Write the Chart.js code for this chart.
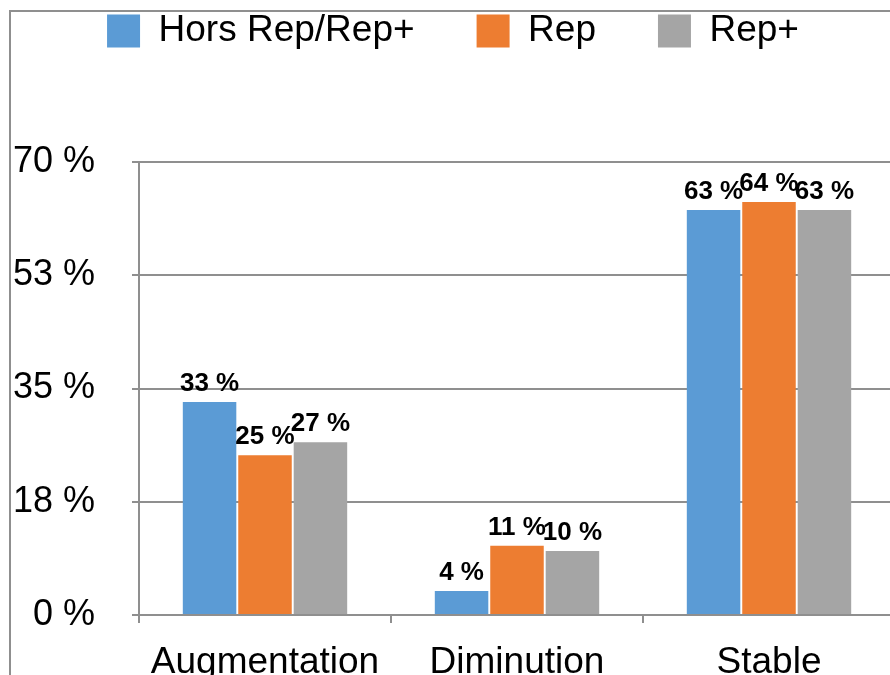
<!DOCTYPE html>
<html>
<head>
<meta charset="utf-8">
<script src="https://cdn.jsdelivr.net/npm/chart.js@4"></script>
<style>
  html, body { margin: 0; padding: 0; background: #fff; overflow: hidden; width: 890px; height: 675px; }
  #frame { position: absolute; left: 9px; top: 10px; width: 2000px; height: 2000px;
           border-left: 2px solid #8f8f8f; border-top: 2px solid #8f8f8f; }
  #chart { position: absolute; left: 6px; top: 0; }
</style>
</head>
<body>
<div id="frame"></div>
<canvas id="chart" width="889" height="720"></canvas>
<script>
const categories = ['Augmentation', 'Diminution', 'Stable'];
const seriesNames = ['Hors Rep/Rep+', 'Rep', 'Rep+'];
const horsRep = [32.9, 3.7, 62.6];
const rep = [24.7, 10.7, 63.8];
const repPlus = [26.7, 9.9, 62.6];
const colors = ['#5b9bd5', '#ed7d31', '#a5a5a5'];

const fontFamily = '"Liberation Sans", Arial, sans-serif';
const gridColor = '#8f8f8f';

// value labels above each bar
const barLabels = {
    id: 'barLabels',
    afterDatasetsDraw(chart) {
        const ctx = chart.ctx;
        ctx.save();
        ctx.font = 'bold 26px ' + fontFamily;
        ctx.fillStyle = '#000';
        ctx.textAlign = 'center';
        ctx.textBaseline = 'alphabetic';
        chart.data.datasets.forEach((ds, i) => {
            chart.getDatasetMeta(i).data.forEach((bar, j) => {
                ctx.fillText(Math.round(ds.data[j]) + ' %', bar.x, bar.y - 11);
            });
        });
        ctx.restore();
    }
};

// keep a gap between legend and plot
const legendGap = {
    id: 'legendGap',
    beforeInit(chart) {
        const fit = chart.legend.fit;
        chart.legend.fit = function () {
            fit.bind(chart.legend)();
            this.height = 211.5;
        };
    }
};

const ctx = document.getElementById('chart').getContext('2d');
new Chart(ctx, {
    type: 'bar',
    data: {
        labels: categories,
        datasets: [
            { label: seriesNames[0], data: horsRep, backgroundColor: colors[0] },
            { label: seriesNames[1], data: rep, backgroundColor: colors[1] },
            { label: seriesNames[2], data: repPlus, backgroundColor: colors[2] }
        ]
    },
    options: {
        responsive: false,
        animation: false,
        devicePixelRatio: 1,
        layout: { padding: { top: -49.5, left: 5, right: 0, bottom: 0 } },
        datasets: {
            bar: { categoryPercentage: 0.66, barPercentage: 0.965, borderWidth: 0 }
        },
        plugins: {
            tooltip: { enabled: false },
            legend: {
                position: 'top',
                labels: {
                    boxWidth: 33,
                    boxHeight: 33,
                    padding: 62,
                    color: '#000',
                    font: { family: fontFamily, size: 37 }
                }
            }
        },
        scales: {
            x: {
                grid: { drawOnChartArea: false, drawTicks: true, tickLength: 8, color: gridColor, lineWidth: 2, offset: true },
                border: { color: gridColor, width: 2 },
                ticks: { color: '#000', padding: 18, font: { family: fontFamily, size: 37 }, maxRotation: 0 },
                afterFit(scale) { scale.height = 105; }
            },
            y: {
                min: 0,
                max: 70,
                grid: { color: gridColor, lineWidth: 2, tickLength: 7 },
                border: { color: gridColor, width: 2 },
                ticks: {
                    stepSize: 17.5,
                    padding: 37,
                    color: '#000',
                    font: { family: fontFamily, size: 36 },
                    callback: v => Math.round(v) + ' %'
                },
                afterFit(scale) { scale.width = 128; }
            }
        }
    },
    plugins: [barLabels, legendGap]
});
</script>
</body>
</html>
